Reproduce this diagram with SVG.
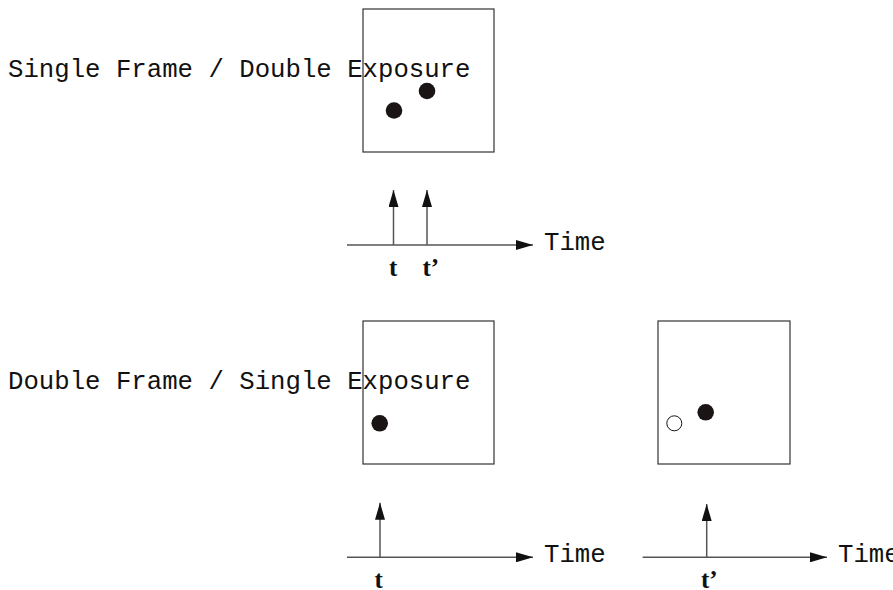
<svg xmlns="http://www.w3.org/2000/svg" width="893" height="590" viewBox="0 0 893 590">
<style>
.frame{fill:#fff;stroke:#333;stroke-width:1.2}
.dot{fill:#1a1414}
.open{fill:#fff;stroke:#1a1414;stroke-width:1}
.axis{stroke:#555;stroke-width:1.5;fill:none}
.mono{font-family:"Liberation Mono","Courier New",monospace;font-size:25.7px;fill:#111}
.lbl{font-family:"Liberation Serif","Times New Roman",serif;font-weight:bold;font-size:25px;fill:#111}
</style>
<defs>
<marker id="ah" markerWidth="17" markerHeight="10" refX="17" refY="5" orient="auto" markerUnits="userSpaceOnUse">
<path d="M0,0 L17,5 L0,10 Z" fill="#111"/>
</marker>
</defs>
<g id="frame1">
<rect class="frame" x="363" y="9" width="131" height="143"/>
<circle class="dot" cx="394" cy="110.5" r="8.3"/>
<circle class="dot" cx="427" cy="91" r="8.3"/>
</g>
<g id="title1"><text class="mono" x="8" y="76.5">Single Frame / Double Exposure</text></g>
<g id="frame2">
<rect class="frame" x="363" y="321" width="131" height="143"/>
<circle class="dot" cx="379.7" cy="423.3" r="8.3"/>
</g>
<g id="title2"><text class="mono" x="8" y="389">Double Frame / Single Exposure</text></g>
<g id="frame3">
<rect class="frame" x="658" y="321" width="132" height="143"/>
<circle class="dot" cx="705.7" cy="412.3" r="8.3"/>
<circle class="open" cx="674.3" cy="423.3" r="7.5"/>
</g>
<g id="connectors">
<line class="axis" x1="347" y1="245" x2="533" y2="245" marker-end="url(#ah)"/>
<line class="axis" x1="393.5" y1="245" x2="393.5" y2="190" marker-end="url(#ah)"/>
<line class="axis" x1="427" y1="245" x2="427" y2="190" marker-end="url(#ah)"/>
<line class="axis" x1="347" y1="557.3" x2="533" y2="557.3" marker-end="url(#ah)"/>
<line class="axis" x1="380" y1="557.3" x2="380" y2="502.7" marker-end="url(#ah)"/>
<line class="axis" x1="642.7" y1="557.3" x2="827" y2="557.3" marker-end="url(#ah)"/>
<line class="axis" x1="706.7" y1="557.3" x2="706.7" y2="504" marker-end="url(#ah)"/>
</g>
<g id="labels">
<text class="mono" x="544" y="249.5">Time</text>
<text class="mono" x="544" y="561.8">Time</text>
<text class="mono" x="838" y="561.8">Time</text>
<text class="lbl" x="389" y="275.5">t</text>
<text class="lbl" x="422.5" y="275.5">t’</text>
<text class="lbl" x="374.5" y="588">t</text>
<text class="lbl" x="701" y="588">t’</text>
</g>
</svg>
